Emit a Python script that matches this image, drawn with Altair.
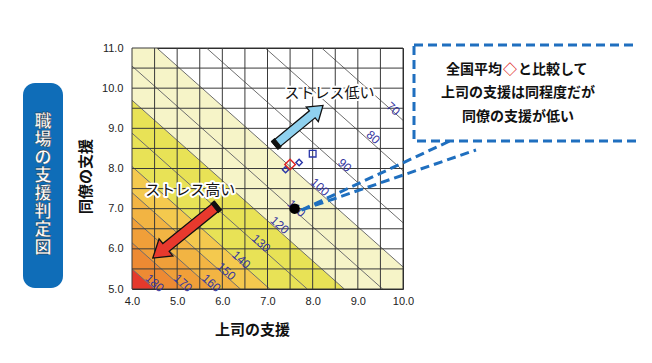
import math
import pandas as pd
import altair as alt

# ---------------- data ----------------
x_grid = [4.0, 4.5, 5.0, 5.5, 6.0, 6.5, 7.0, 7.5, 8.0, 8.5, 9.0, 9.5, 10.0]
y_grid = [5.0, 5.5, 6.0, 6.5, 7.0, 7.5, 8.0, 8.5, 9.0, 9.5, 10.0, 10.5, 11.0]
x_ticks = [4.0, 5.0, 6.0, 7.0, 8.0, 9.0, 10.0]
y_ticks = [5.0, 6.0, 7.0, 8.0, 9.0, 10.0, 11.0]

# health-risk contour lines: level and (上司 + 同僚) value where the line runs
contour_levels = [70, 80, 90, 100, 110, 120, 130, 140, 150, 160, 170, 180]
contour_sums = [19.2, 17.95, 16.65, 15.55, 14.55, 13.7, 12.88, 12.05, 11.4, 10.78, 10.15, 9.5]
label_x = [9.78, 9.34, 8.71, 8.16, 7.64, 7.27, 6.86, 6.42, 6.09, 5.76, 5.13, 4.50]
label_y = [9.49, 8.78, 8.08, 7.54, 7.01, 6.59, 6.14, 5.73, 5.44, 5.15, 5.15, 5.15]

# coloured zones: everything below the given contour
band_levels = [100, 120, 140, 150, 160, 170, 180]
band_colors = ["#f6f4c8", "#e8e256", "#f4c94e", "#f2b443", "#f09f39", "#ed8a33", "#e5392c"]

# points
avg_x, avg_y = [7.5], [8.1]                    # 全国平均 (red diamond)
grp_diamond_x, grp_diamond_y = [7.4, 7.7], [7.97, 8.15]
grp_square_x, grp_square_y = [8.0], [8.37]
own_x, own_y = [7.6], [7.0]                    # 自職場 (black dot)

# arrows (tail -> head, data units)
arrow_low = {"tail": (7.16, 8.58), "head": (8.23, 9.57)}
arrow_high = {"tail": (5.90, 7.08), "head": (4.46, 5.77)}
text_low = {"x": 8.37, "y": 9.88, "t": "ストレス低い"}
text_high = {"x": 5.29, "y": 7.46, "t": "ストレス高い"}

callout_lines = ["上司の支援は同程度だが", "同僚の支援が低い"]
side_title = "職場の支援判定図"

# ---------------- layout ----------------
W, H = 271, 241
XMIN, XMAX, YMIN, YMAX = 4.0, 10.0, 5.0, 11.0
PXX, PXY = W / (XMAX - XMIN), H / (YMAX - YMIN)
JP = "Noto Sans CJK JP"
NUM = "Liberation Sans"
BLUE = "#1f6fbf"

xs = alt.Scale(domain=[XMIN, XMAX], nice=False, zero=False)
ys = alt.Scale(domain=[YMIN, YMAX], nice=False, zero=False)
xaxis = alt.Axis(values=x_ticks, format=".1f", grid=False, ticks=False, domain=False,
                 labelFont=NUM, labelFontSize=11, labelColor="#222", labelPadding=6,
                 labelFlush=False, labelOverlap=False,
                 title="上司の支援", titleFont=JP, titleFontSize=15, titleFontWeight="bold",
                 titleColor="#111", titleX=120, titleY=40, titleAlign="center",
                 titleBaseline="middle")
yaxis = alt.Axis(values=y_ticks, format=".1f", grid=False, ticks=False, domain=False,
                 labelFont=NUM, labelFontSize=11, labelColor="#222", labelPadding=9,
                 labelFlush=False, labelOverlap=False,
                 title="同僚の支援", titleFont=JP, titleFontSize=15, titleFontWeight="bold",
                 titleColor="#111", titleX=-47, titleY=128, titleAlign="center",
                 titleBaseline="middle")
X = alt.X("x:Q", scale=xs, axis=xaxis)
Y = alt.Y("y:Q", scale=ys, axis=yaxis)

sum_of = dict(zip(contour_levels, contour_sums))
layers = []

# zones
for lev, col in zip(band_levels, band_colors):
    s = sum_of[lev]
    pts = sorted(set([XMIN, XMAX] + [v for v in (s - YMAX, s - YMIN) if XMIN < v < XMAX]))
    df = pd.DataFrame({"x": pts, "y": [min(YMAX, max(YMIN, s - p)) for p in pts]})
    df["y2"] = YMIN
    layers.append(alt.Chart(df).mark_area(color=col, opacity=1, clip=True)
                  .encode(x=X, y=Y, y2="y2:Q"))

# contour lines
rows = []
for lev, s in zip(contour_levels, contour_sums):
    x0 = max(XMIN, s - YMAX)
    x1 = min(XMAX, s - YMIN)
    rows.append({"lev": lev, "x": x0, "y": s - x0, "x2": x1, "y2": s - x1})
layers.append(alt.Chart(pd.DataFrame(rows)).mark_rule(color="#6e6e6e", strokeWidth=1, clip=True)
              .encode(x=X, y=Y, x2="x2:Q", y2="y2:Q"))

# grid
layers.append(alt.Chart(pd.DataFrame({"x": x_grid})).mark_rule(color="#3a3a3a", strokeWidth=1)
              .encode(x=X, y=alt.value(0), y2=alt.value(H)))
layers.append(alt.Chart(pd.DataFrame({"y": y_grid})).mark_rule(color="#3a3a3a", strokeWidth=1)
              .encode(y=Y, x=alt.value(0), x2=alt.value(W)))

# contour labels
lab = pd.DataFrame({"x": label_x, "y": label_y, "t": [str(v) for v in contour_levels]})
layers.append(alt.Chart(lab).mark_text(font=NUM, fontSize=12, color="#34349e", angle=42,
                                        align="center", baseline="middle")
              .encode(x=X, y=Y, text="t:N"))

# points
layers.append(alt.Chart(pd.DataFrame({"x": grp_diamond_x, "y": grp_diamond_y}))
              .mark_point(shape="diamond", size=40, filled=False, color="#2a36a8", strokeWidth=1.4, opacity=1)
              .encode(x=X, y=Y))
layers.append(alt.Chart(pd.DataFrame({"x": grp_square_x, "y": grp_square_y}))
              .mark_point(shape="square", size=45, filled=False, color="#2a36a8", strokeWidth=1.3, opacity=1)
              .encode(x=X, y=Y))
layers.append(alt.Chart(pd.DataFrame({"x": avg_x, "y": avg_y}))
              .mark_point(shape="diamond", size=110, filled=False, color="#e02424", strokeWidth=1.5, opacity=1)
              .encode(x=X, y=Y))
layers.append(alt.Chart(pd.DataFrame({"x": own_x, "y": own_y}))
              .mark_point(shape="circle", size=110, filled=True, color="#000000", opacity=1)
              .encode(x=X, y=Y))


# arrows
def arrow_layers(a, fill, shaft_w, head_w, head_len):
    (tx, ty), (hx, hy) = a["tail"], a["head"]
    dx, dy = (hx - tx) * PXX, -(hy - ty) * PXY
    length = math.hypot(dx, dy)
    ang = (math.degrees(math.atan2(dy, dx)) + 90) % 360
    r = length / 2
    hw, hh, yb = shaft_w / 2 / r, head_w / 2 / r, -1 + head_len / r
    body = (f"M0,-1L{hh:.3f},{yb:.3f}L{hw:.3f},{yb:.3f}L{hw:.3f},1"
            f"L{-hw:.3f},1L{-hw:.3f},{yb:.3f}L{-hh:.3f},{yb:.3f}Z")
    c, t = hw * 1.15, 4.0 / r
    cap = f"M{-c:.3f},{1 - t:.3f}L{c:.3f},{1 - t:.3f}L{c:.3f},1L{-c:.3f},1Z"
    df = pd.DataFrame({"x": [(tx + hx) / 2], "y": [(ty + hy) / 2]})
    return [
        alt.Chart(df).mark_point(shape=body, size=length ** 2, angle=ang, filled=True,
                                 fill=fill, stroke="#111", strokeWidth=1.3, opacity=1)
        .encode(x=X, y=Y),
        alt.Chart(df).mark_point(shape=cap, size=length ** 2, angle=ang, filled=True,
                                 fill="#111", stroke="#111", strokeWidth=1, opacity=1)
        .encode(x=X, y=Y),
    ]


layers += arrow_layers(arrow_low, "#8fd1ef", 9, 19, 14)
layers += arrow_layers(arrow_high, "#e8392d", 10, 22, 17)

# arrow captions with white halo
for tt in (text_low, text_high):
    df = pd.DataFrame({"x": [tt["x"]], "y": [tt["y"]], "t": [tt["t"]]})
    layers.append(alt.Chart(df).mark_text(font=JP, fontSize=15, color="white", stroke="white",
                                          strokeWidth=4, strokeJoin="round")
                  .encode(x=X, y=Y, text="t:N"))
    layers.append(alt.Chart(df).mark_text(font=JP, fontSize=15, color="#111")
                  .encode(x=X, y=Y, text="t:N"))

# callout pointer lines (pixel annotations)
anno = pd.DataFrame({"a": [0]})
for x2p, y2p in ((320, 92), (344, 102)):
    layers.append(alt.Chart(anno).mark_rule(color=BLUE, strokeWidth=3, strokeDash=[9, 5])
                  .encode(x=alt.value(169.5), y=alt.value(162), x2=alt.value(x2p), y2=alt.value(y2p)))

# callout box
layers.append(alt.Chart(anno).mark_rect(fill="white", stroke=BLUE, strokeWidth=3, strokeDash=[9, 5])
              .encode(x=alt.value(282), x2=alt.value(506), y=alt.value(-3), y2=alt.value(93)))
layers.append(alt.Chart(anno).mark_text(text="全国平均", font=JP, fontSize=14, fontWeight="bold",
                                         color="#111", align="right", baseline="middle")
              .encode(x=alt.value(370), y=alt.value(22)))
layers.append(alt.Chart(anno).mark_text(text="◇", font=JP, fontSize=14, fontWeight="bold",
                                         color="#e02424", align="center", baseline="middle")
              .encode(x=alt.value(378), y=alt.value(22)))
layers.append(alt.Chart(anno).mark_text(text="と比較して", font=JP, fontSize=14, fontWeight="bold",
                                         color="#111", align="left", baseline="middle")
              .encode(x=alt.value(386), y=alt.value(22)))
for i, line in enumerate(callout_lines):
    layers.append(alt.Chart(anno).mark_text(text=line, font=JP, fontSize=14, fontWeight="bold",
                                             color="#111", align="center", baseline="middle")
                  .encode(x=alt.value(386), y=alt.value(45 + 24 * i)))

# left side title box (vertical text, one character per line)
LH = 18
n_chars = len(side_title)
layers.append(alt.Chart(anno).mark_rect(fill="#0f6db8", cornerRadius=12)
              .encode(x=alt.value(-109), x2=alt.value(-69), y=alt.value(35), y2=alt.value(240)))
layers.append(alt.Chart(anno).mark_text(text=list(side_title), font=JP, fontSize=17, fontWeight="bold",
                                         color="white", stroke="#222", strokeWidth=0.35,
                                         lineHeight=LH, align="center", baseline="middle")
              .encode(x=alt.value(-89), y=alt.value(137 - (n_chars - 1) * LH / 2)))

chart = (alt.layer(*layers)
         .properties(width=W, height=H,
                     padding={"left": 124, "top": 40, "right": 233, "bottom": 60},
                     autosize=alt.AutoSizeParams(type="none"),
                     background="white")
         .configure_view(stroke="#222", strokeWidth=1))

chart.save("out.html", embed_options={"renderer": "svg", "actions": False})
